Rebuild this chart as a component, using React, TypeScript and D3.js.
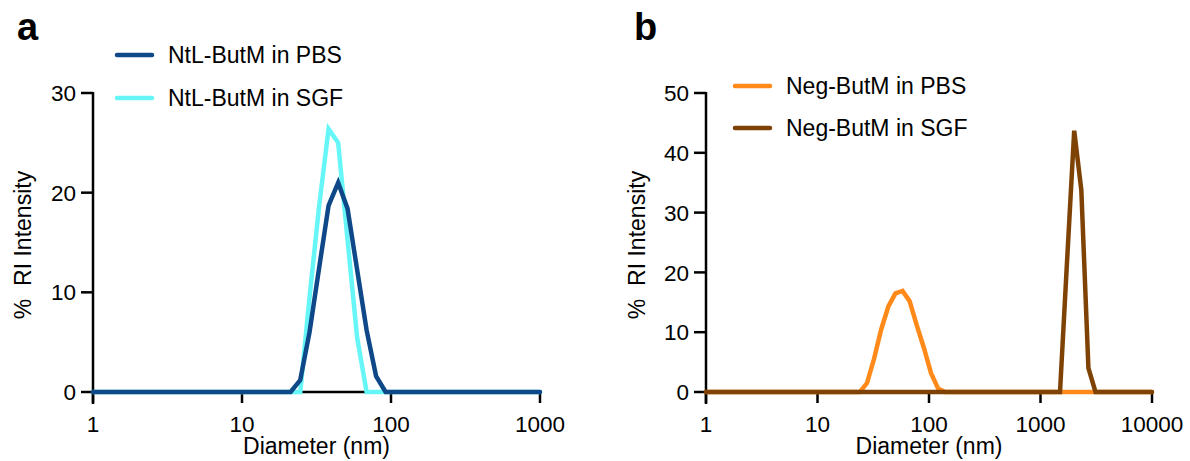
import React from "react";
import * as d3 from "d3";

// ---------- Data ----------
// Panel a
const diamA = [1, 21.2, 24.6, 28.4, 32.9, 38.1, 44.2, 51.1, 59.2, 68.6, 79.4, 92.0, 1000];
const ntlPBS = [0, 0, 1.2, 6.0, 12.4, 18.7, 21.0, 18.4, 12.3, 6.2, 1.6, 0, 0];
const ntlSGF = [0, 0, 0, 9.5, 18.6, 26.4, 25.0, 15.3, 5.5, 0, 0, 0, 0];
const xTicksA = [1, 10, 100, 1000];
const yTicksA = [0, 10, 20, 30];

// Panel b
const diamNegPBS = [1, 24.0, 27.8, 32.2, 37.3, 43.2, 50.0, 57.9, 67.0, 77.6, 89.9, 104.1, 120.5, 139.6, 10000];
const negPBS = [0, 0, 1.5, 5.6, 10.5, 14.3, 16.5, 16.9, 15.2, 11.2, 7.4, 3.2, 0.6, 0, 0];
const diamNegSGF = [1, 1496, 1732, 2006, 2323, 2690, 3115, 10000];
const negSGF = [0, 0, 22.0, 43.7, 33.8, 4.0, 0, 0];
const xTicksB = [1, 10, 100, 1000, 10000];
const yTicksB = [0, 10, 20, 30, 40, 50];

const FONT = "'Liberation Sans', Arial, Helvetica, sans-serif";

type Series = { name: string; color: string; x: number[]; y: number[]; legendRow: number };

function Panel(props: {
  label: string;
  labelX: number;
  x0: number;
  x1: number;
  xDomain: [number, number];
  yDomain: [number, number];
  xTicks: number[];
  yTicks: number[];
  series: Series[];
  legendX: number;
  legendY: number[];
  yTitleX: number;
}) {
  const { x0, x1, xDomain, yDomain, xTicks, yTicks, series } = props;
  const yTop = 93;
  const yBot = 392;
  const x = d3.scaleLog().domain(xDomain).range([x0, x1]);
  const y = d3.scaleLinear().domain(yDomain).range([yBot, yTop]);
  const tick = 12;
  const line = (s: Series) =>
    d3
      .line<number>()
      .x((_, i) => x(s.x[i]))
      .y((v) => y(v))(s.y) || "";

  return (
    <g>
      <text x={props.labelX} y={40} fontFamily={FONT} fontWeight="bold" fontSize={38}>
        {props.label}
      </text>
      {/* axes */}
      <g stroke="#000" strokeWidth={2.5} fill="none">
        <line x1={x0} x2={x0} y1={yTop - 1} y2={yBot + tick} />
        <line x1={x0} x2={x1} y1={yBot} y2={yBot} />
        {yTicks.map((t) => (
          <line key={"yt" + t} x1={x0 - tick} x2={x0} y1={y(t)} y2={y(t)} />
        ))}
        {xTicks.map((t) => (
          <line key={"xt" + t} x1={x(t)} x2={x(t)} y1={yBot} y2={yBot + 11} />
        ))}
      </g>
      {yTicks.map((t) => (
        <text
          key={"yl" + t}
          x={x0 - tick - 5}
          y={y(t)}
          dy="0.36em"
          textAnchor="end"
          fontFamily={FONT}
          fontSize={22.5}
        >
          {t}
        </text>
      ))}
      {xTicks.map((t) => (
        <text
          key={"xl" + t}
          x={x(t)}
          y={432}
          textAnchor="middle"
          fontFamily={FONT}
          fontSize={22.5}
        >
          {t}
        </text>
      ))}
      <text
        x={(x0 + x1) / 2}
        y={454}
        textAnchor="middle"
        fontFamily={FONT}
        fontSize={23}
      >
        Diameter (nm)
      </text>
      <text
        transform={`translate(${props.yTitleX},${245}) rotate(-90)`}
        textAnchor="middle"
        fontFamily={FONT}
        fontSize={23}
        style={{ whiteSpace: "pre" }}
      >
        {"%  RI Intensity"}
      </text>
      {/* series */}
      {series.map((s) => (
        <path
          key={s.name}
          d={line(s)}
          fill="none"
          stroke={s.color}
          strokeWidth={4.5}
          strokeLinejoin="miter"
          strokeLinecap="round"
        />
      ))}
      {/* legend */}
      {series.map((s) => (
        <g key={"lg" + s.name}>
          <line
            x1={props.legendX}
            x2={props.legendX + 35}
            y1={props.legendY[s.legendRow]}
            y2={props.legendY[s.legendRow]}
            stroke={s.color}
            strokeWidth={4.5}
            strokeLinecap="round"
          />
          <text
            x={props.legendX + 51}
            y={props.legendY[s.legendRow]}
            dy="0.36em"
            fontFamily={FONT}
            fontSize={23}
          >
            {s.name}
          </text>
        </g>
      ))}
    </g>
  );
}

export default function App() {
  const seriesA: Series[] = [
    { name: "NtL-ButM in SGF", color: "#66F6F8", x: diamA, y: ntlSGF, legendRow: 1 },
    { name: "NtL-ButM in PBS", color: "#0E4888", x: diamA, y: ntlPBS, legendRow: 0 },
  ];
  const seriesB: Series[] = [
    { name: "Neg-ButM in PBS", color: "#FF8A1A", x: diamNegPBS, y: negPBS, legendRow: 0 },
    { name: "Neg-ButM in SGF", color: "#7F4205", x: diamNegSGF, y: negSGF, legendRow: 1 },
  ];
  return (
    <svg
      width={1190}
      height={461}
      style={{ position: "absolute", left: 0, top: 0, background: "#fff" }}
    >
      <Panel
        label="a"
        labelX={17}
        x0={93}
        x1={540}
        xDomain={[1, 1000]}
        yDomain={[0, 30]}
        xTicks={xTicksA}
        yTicks={yTicksA}
        series={seriesA}
        legendX={117}
        legendY={[55, 98]}
        yTitleX={31}
      />
      <Panel
        label="b"
        labelX={634}
        x0={706}
        x1={1152}
        xDomain={[1, 10000]}
        yDomain={[0, 50]}
        xTicks={xTicksB}
        yTicks={yTicksB}
        series={seriesB}
        legendX={735}
        legendY={[86, 128]}
        yTitleX={645}
      />
    </svg>
  );
}
